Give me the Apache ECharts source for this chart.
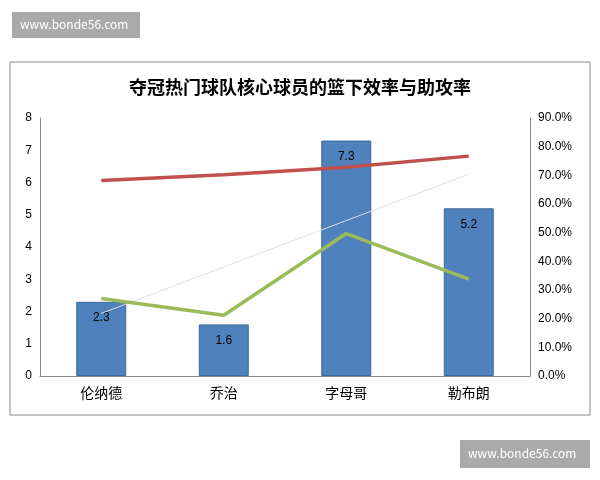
<!DOCTYPE html>
<html><head><meta charset="utf-8">
<script src="https://cdn.jsdelivr.net/npm/echarts@6/dist/echarts.min.js"></script>
<style>html,body{margin:0;padding:0;background:#fff}#c{width:600px;height:480px}</style>
</head><body><div id="c"></div>
<script>
const categories = ['伦纳德','乔治','字母哥','勒布朗'];
const basketEff = [2.3, 1.6, 7.3, 5.2];
const trend = [1.94, 3.38, 4.82, 6.26];
const redRate = [68.2, 70.2, 72.8, 76.7];
const greenRate = [27.0, 21.2, 49.7, 33.8];
const font = '"Noto Sans CJK SC", sans-serif';
const chart = echarts.init(document.getElementById('c'));
chart.setOption({
  animation:false,
  title:{text:'夺冠热门球队核心球员的篮下效率与助攻率',left:'center',top:73,textStyle:{fontFamily:font,fontSize:18,fontWeight:'bold',color:'#000'}},
  graphic:[
    {type:'rect',shape:{x:10,y:62,width:580,height:353},style:{fill:'none',stroke:'#888',lineWidth:1}},
    {type:'rect',shape:{x:12,y:12,width:128,height:26},style:{fill:'#aaa'}},
    {type:'text',left:20,top:18,style:{text:'www.bonde56.com',fill:'#fff',font:'12px '+font}},
    {type:'rect',shape:{x:460,y:440,width:130,height:28},style:{fill:'#aaa'}},
    {type:'text',left:468,top:447,style:{text:'www.bonde56.com',fill:'#fff',font:'12px '+font}}
  ],
  grid:{left:40,right:70,top:118,bottom:104},
  xAxis:{type:'category',data:categories,axisTick:{show:false},axisLine:{lineStyle:{color:'#888'}},axisLabel:{fontFamily:font,fontSize:14,color:'#000',margin:10}},
  yAxis:[
    {type:'value',min:0,max:8,interval:1,splitLine:{show:false},axisLine:{show:true,lineStyle:{color:'#888'}},axisLabel:{color:'#000',fontSize:12}},
    {type:'value',min:0,max:90,interval:10,splitLine:{show:false},axisLine:{show:true,lineStyle:{color:'#888'}},axisLabel:{color:'#000',fontSize:12,formatter:v=>v.toFixed(1)+'%'}}
  ],
  series:[
    {type:'bar',data:basketEff,barWidth:50,itemStyle:{color:'#4f81bd',borderColor:'#3a6a9f',borderWidth:1},label:{show:true,position:'insideTop',color:'#000',fontSize:12,distance:10}},
    {type:'line',data:trend,symbol:'none',lineStyle:{color:'#dde',width:1},silent:true},
    {type:'line',yAxisIndex:1,data:redRate,symbol:'circle',symbolSize:1,showSymbol:true,itemStyle:{color:'#c0504d',opacity:0},lineStyle:{color:'#c0504d',width:3.5},label:{show:true,position:'top',distance:14,color:'#000',fontSize:12,formatter:p=>p.value.toFixed(1)+'%'}},
    {type:'line',yAxisIndex:1,data:greenRate,symbol:'circle',symbolSize:1,showSymbol:true,itemStyle:{color:'#9bbb59',opacity:0},lineStyle:{color:'#9bbb59',width:3.5},label:{show:true,position:'top',distance:12,color:'#000',fontSize:12,formatter:p=>p.value.toFixed(1)+'%'}}
  ]
});
</script></body></html>
